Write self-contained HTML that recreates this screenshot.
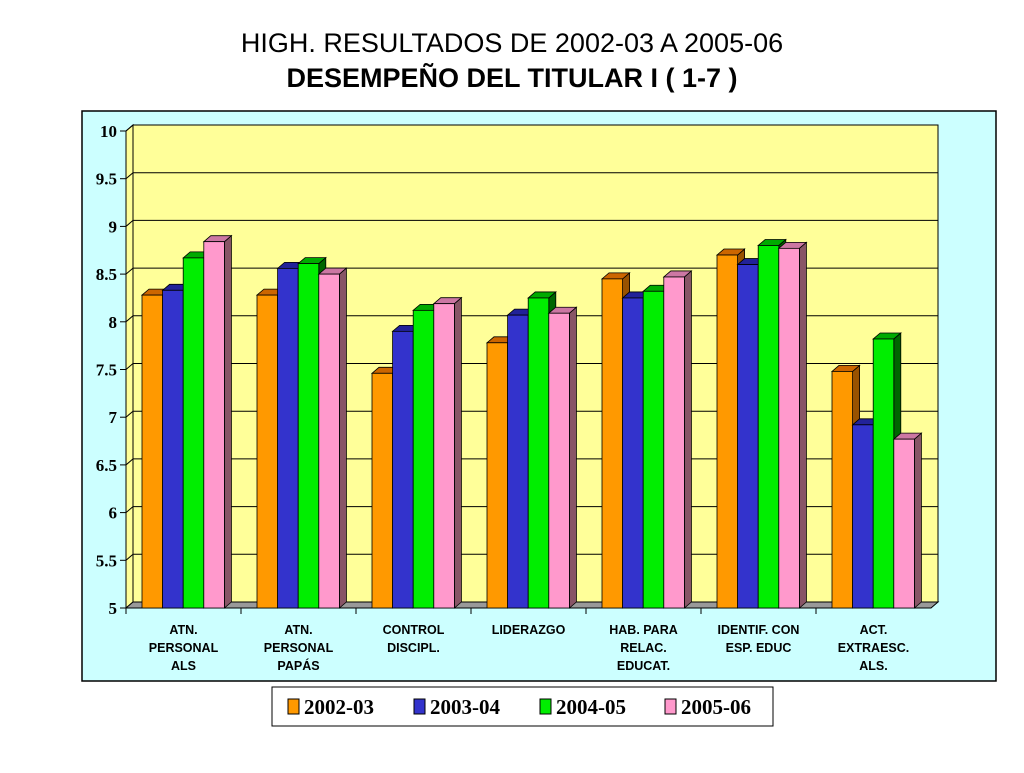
<!DOCTYPE html>
<html><head><meta charset="utf-8"><style>
body{margin:0;background:#fff;width:1024px;height:768px;overflow:hidden;font-family:"Liberation Sans",sans-serif}
</style></head><body>
<svg width="1024" height="768" xmlns="http://www.w3.org/2000/svg">
<text x="512" y="52" text-anchor="middle" font-family="Liberation Sans" font-size="27">HIGH. RESULTADOS DE 2002-03 A 2005-06</text>
<text x="512" y="87" text-anchor="middle" font-family="Liberation Sans" font-weight="bold" font-size="27">DESEMPEÑO DEL TITULAR  I ( 1-7 )</text>
<rect x="82" y="111" width="914" height="570" fill="#ccffff" stroke="#000" stroke-width="1.5"/>
<polygon points="133,125 938,125 938,602 133,602" fill="#ffff99" stroke="#000"/>
<polygon points="126,131 133,125 133,602 126,608" fill="#ffff99" stroke="#000"/>
<polygon points="126,608 133,602 938,602 931,608" fill="#999999" stroke="#000"/>
<g id="grid"></g><g id="axis"></g><g id="bars"></g>
<rect x="272" y="687" width="501" height="39" fill="#fff" stroke="#000"/>
<g id="legend"></g>
</svg>
<script>
const categories=[["ATN.","PERSONAL","ALS"],["ATN.","PERSONAL","PAPÁS"],["CONTROL","DISCIPL."],["LIDERAZGO"],["HAB. PARA","RELAC.","EDUCAT."],["IDENTIF. CON","ESP. EDUC"],["ACT.","EXTRAESC.","ALS."]];
const seriesNames=["2002-03","2003-04","2004-05","2005-06"];
const s2002=[8.28,8.28,7.46,7.78,8.45,8.70,7.48];
const s2003=[8.33,8.56,7.90,8.07,8.25,8.60,6.92];
const s2004=[8.67,8.61,8.12,8.25,8.32,8.80,7.82];
const s2005=[8.84,8.50,8.19,8.09,8.47,8.77,6.77];
const ticks=["5","5.5","6","6.5","7","7.5","8","8.5","9","9.5","10"];
const series=[s2002,s2003,s2004,s2005];
const colors=[["#ff9900","#cc6600","#995200"],["#3333cc","#222299","#1a1a66"],["#00ee00","#00aa00","#006600"],["#ff99cc","#cc77a3","#885566"]];
const NS="http://www.w3.org/2000/svg";
const yF=v=>608-95.4*(v-5), yB=v=>602-95.4*(v-5);
const x0=126,cw=(931-126)/7,dx=7,dy=-6;
function el(t,a,p){const e=document.createElementNS(NS,t);for(const k in a)e.setAttribute(k,a[k]);document.getElementById(p).appendChild(e);return e;}
ticks.forEach((t,i)=>{const v=parseFloat(t);
 if(v>5){const g=el('line',{x1:133,x2:938,y1:yB(v),y2:yB(v),stroke:'#000'},'grid');
 
 
 const d=el('line',{x1:126,x2:133,y1:yF(v),y2:yB(v),stroke:'#000'},'grid');
 
 }
 const tk=el('line',{x1:120,x2:126,y1:yF(v),y2:yF(v),stroke:'#000'},'axis');
 
 
 const tx=el('text',{x:117,y:yF(v)+6,'text-anchor':'end','font-family':'Liberation Serif','font-weight':'bold','font-size':17},'axis');
 tx.textContent=t;
 
 
});
const ax=el('line',{x1:126,x2:126,y1:131,y2:608,stroke:'#000'},'axis');


const xa=el('line',{x1:126,x2:931,y1:608,y2:608,stroke:'#000'},'axis');


categories.forEach((c,i)=>{
 const tk=el('line',{x1:x0+cw*i,x2:x0+cw*i,y1:608,y2:614,stroke:'#000'},'axis');
 
 
 c.forEach((ln,j)=>{const t=el('text',{x:x0+cw*(i+0.5),y:634+j*18,'text-anchor':'middle','font-family':'Liberation Sans','font-weight':'bold','font-size':12.5},'axis');
 t.textContent=ln;
 
 });
 series.forEach((s,k)=>{
  const bx=x0+cw*i+16+k*20.6,bw=20.6,top=yF(s[i]);
  const g=el('g',{},'bars');
  
  
  g.innerHTML=`<polygon points="${bx+bw},${top} ${bx+bw+dx},${top+dy} ${bx+bw+dx},${608+dy} ${bx+bw},608" fill="${colors[k][2]}" stroke="#000" stroke-width="0.8"/>`+
  `<polygon points="${bx},${top} ${bx+dx},${top+dy} ${bx+bw+dx},${top+dy} ${bx+bw},${top}" fill="${colors[k][1]}" stroke="#000" stroke-width="0.8"/>`+
  `<rect x="${bx}" y="${top}" width="${bw}" height="${608-top}" fill="${colors[k][0]}" stroke="#000" stroke-width="0.8"/>`;
 });
});
const lx=[288,414,540,665];
seriesNames.forEach((n,k)=>{
 const r=el('rect',{x:lx[k],y:699,width:11,height:15,fill:colors[k][0],stroke:'#000'},'legend');
 
 
 const t=el('text',{x:lx[k]+16,y:714,'font-family':'Liberation Serif','font-weight':'bold','font-size':21},'legend');
 t.textContent=n;
 
 
});
</script>
</body></html>
